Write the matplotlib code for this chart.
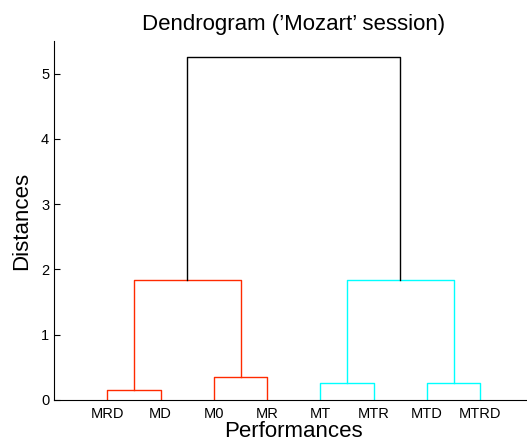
import matplotlib
matplotlib.use('Agg')
import matplotlib.pyplot as plt

plt.rcParams['font.family'] = ['Liberation Sans', 'DejaVu Sans']

# leaves in dendrogram order
leaves = ['MRD', 'MD', 'M0', 'MR', 'MT', 'MTR', 'MTD', 'MTRD']
# pair merges (neighbouring leaves), heights
pair_heights = [0.15, 0.35, 0.26, 0.26]
# cluster merges of pairs
cluster_heights = [1.84, 1.84]
root_height = 5.25
colors = ['#ff2a00', '#00ffff']

fig = plt.figure(figsize=(5.27, 4.41), dpi=100)
ax = fig.add_axes([0.1025, 0.093, 0.910, 0.814])

def u_link(ax, x1, y1, x2, y2, h, c):
    ax.plot([x1, x1, x2, x2], [y1, h, h, y2], color=c, lw=1)

xs = list(range(1, len(leaves) + 1))
pair_mid = []
for i, h in enumerate(pair_heights):
    xl, xr = xs[2 * i], xs[2 * i + 1]
    u_link(ax, xl, 0, xr, 0, h, colors[i // 2])
    pair_mid.append(((xl + xr) / 2, h))

clus_mid = []
for j, h in enumerate(cluster_heights):
    (a, ha), (b, hb) = pair_mid[2 * j], pair_mid[2 * j + 1]
    u_link(ax, a, ha, b, hb, h, colors[j])
    clus_mid.append(((a + b) / 2, h))

(a, ha), (b, hb) = clus_mid
u_link(ax, a, ha, b, hb, root_height, 'black')

ax.set_xlim(0, 9)
ax.set_ylim(0, 5.5)
ax.set_xticks(xs)
ax.set_xticklabels(leaves, fontsize=10.5)
ax.set_yticks([0, 1, 2, 3, 4, 5])
ax.tick_params(axis='y', direction='in', length=4, labelsize=10.5)
ax.tick_params(axis='x', length=0, pad=5)
ax.spines['top'].set_visible(False)
ax.spines['right'].set_visible(False)
ax.set_title("Dendrogram (\u2019Mozart\u2019 session)", fontsize=16, pad=8)
ax.set_xlabel('Performances', fontsize=16, labelpad=0)
ax.set_ylabel('Distances', fontsize=16, labelpad=6)

fig.savefig('out.png', dpi=100)
